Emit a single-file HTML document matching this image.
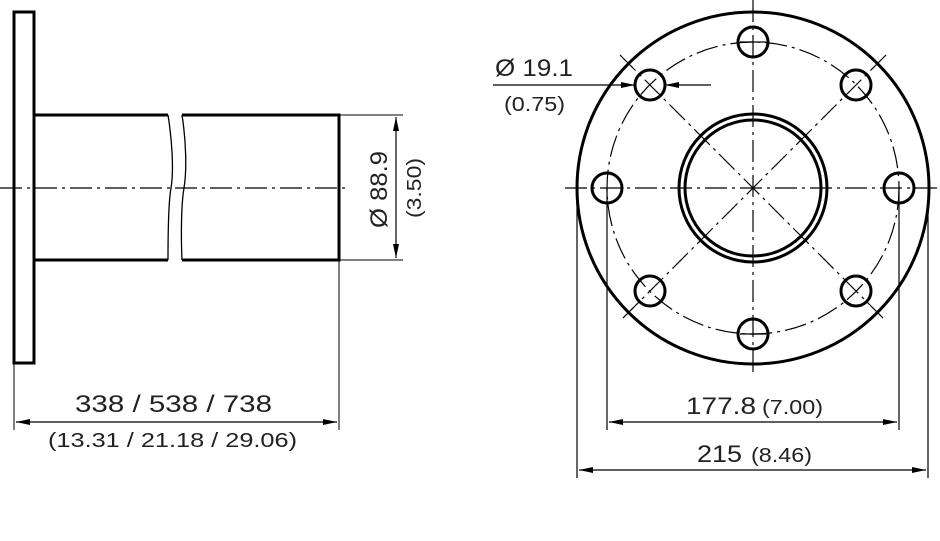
<!DOCTYPE html>
<html><head><meta charset="utf-8"><style>html,body{margin:0;padding:0;background:#fff}svg{display:block}</style></head>
<body>
<svg width="940" height="541" viewBox="0 0 940 541" xmlns="http://www.w3.org/2000/svg" font-family="Liberation Sans, sans-serif" fill="none" stroke="#000">
<defs>
<marker id="a" viewBox="0 0 14 6" refX="14" refY="3" markerWidth="15" markerHeight="6" markerUnits="userSpaceOnUse" orient="auto-start-reverse"><path d="M0,0 L14,3 L0,6 Z" fill="#000" stroke="none"/></marker>
</defs>
<!-- left view -->
<rect x="14" y="12" width="20" height="351" stroke-width="3"/>
<path d="M33 115 H168 M182 115 H339 V260 H182 M168 260 H33" stroke-width="3"/>
<path d="M168 115 C172 140,174 170,171 188 C168 205,168 240,168 260" stroke-width="1.3"/>
<path d="M182 115 C186 140,187 170,184 188 C181 205,181 240,182 260" stroke-width="1.3"/>
<path d="M0 188 H350" stroke-width="1.2" stroke-dasharray="22 5 3 5"/>
<path d="M339 115 H403 M339 260 H403" stroke-width="1"/>
<path d="M396 117 V258" stroke-width="1.2" marker-start="url(#a)" marker-end="url(#a)"/>
<path d="M14 363 V430 M339 260 V430" stroke-width="1"/>
<path d="M16 422 H337" stroke-width="1.2" marker-start="url(#a)" marker-end="url(#a)"/>
<g fill="#222" stroke="none">
<text x="75" y="412" font-size="24" textLength="197" lengthAdjust="spacingAndGlyphs">338 / 538 / 738</text>
<text x="48" y="447" font-size="20" textLength="249" lengthAdjust="spacingAndGlyphs">(13.31 / 21.18 / 29.06)</text>
<text transform="translate(387,228) rotate(-90)" font-size="24" textLength="77" lengthAdjust="spacingAndGlyphs">Ø 88.9</text>
<text transform="translate(421,218) rotate(-90)" font-size="20" textLength="60" lengthAdjust="spacingAndGlyphs">(3.50)</text>
</g>
<!-- right view -->
<circle cx="753" cy="188" r="176" stroke-width="3"/>
<circle cx="753" cy="188" r="146" stroke-width="1.2" stroke-dasharray="22 5 3 5"/>
<circle cx="753" cy="188" r="74" stroke-width="3"/>
<circle cx="753" cy="188" r="68" stroke-width="3"/>
<path d="M753 0 V375 M565 188 H940" stroke-width="1.2" stroke-dasharray="22 5 3 5"/>
<path d="M620 55 L886 321 M886 55 L620 321" stroke-width="1.2" stroke-dasharray="22 5 3 5"/>
<g stroke-width="3">
<circle cx="753" cy="42" r="15"/><circle cx="753" cy="334" r="15"/>
<circle cx="607" cy="188" r="15"/><circle cx="899" cy="188" r="15"/>
<circle cx="650" cy="85" r="15"/><circle cx="856" cy="85" r="15"/>
<circle cx="650" cy="291" r="15"/><circle cx="856" cy="291" r="15"/>
</g>
<g stroke-width="1.2">
<path d="M740 42 H766 M740 334 H766"/>
<path d="M607 188 V430 M899 188 V430"/>
<path d="M577 195 V478 M928 195 V478"/>
</g>
<path d="M609 422 H897" stroke-width="1.2" marker-start="url(#a)" marker-end="url(#a)"/>
<path d="M579 470 H926" stroke-width="1.2" marker-start="url(#a)" marker-end="url(#a)"/>
<path d="M493 85 H635" stroke-width="1.2" marker-end="url(#a)"/>
<path d="M711 85 H665" stroke-width="1.2" marker-end="url(#a)"/>
<g fill="#222" stroke="none">
<text x="495" y="76" font-size="24" textLength="78" lengthAdjust="spacingAndGlyphs">Ø 19.1</text>
<text x="504" y="111" font-size="20" textLength="61" lengthAdjust="spacingAndGlyphs">(0.75)</text>
<text x="686" y="414" font-size="24" textLength="70" lengthAdjust="spacingAndGlyphs">177.8</text>
<text x="762" y="414" font-size="20" textLength="61" lengthAdjust="spacingAndGlyphs">(7.00)</text>
<text x="697" y="462" font-size="24" textLength="45" lengthAdjust="spacingAndGlyphs">215</text>
<text x="751" y="462" font-size="20" textLength="61" lengthAdjust="spacingAndGlyphs">(8.46)</text>
</g>
</svg>
</body></html>
